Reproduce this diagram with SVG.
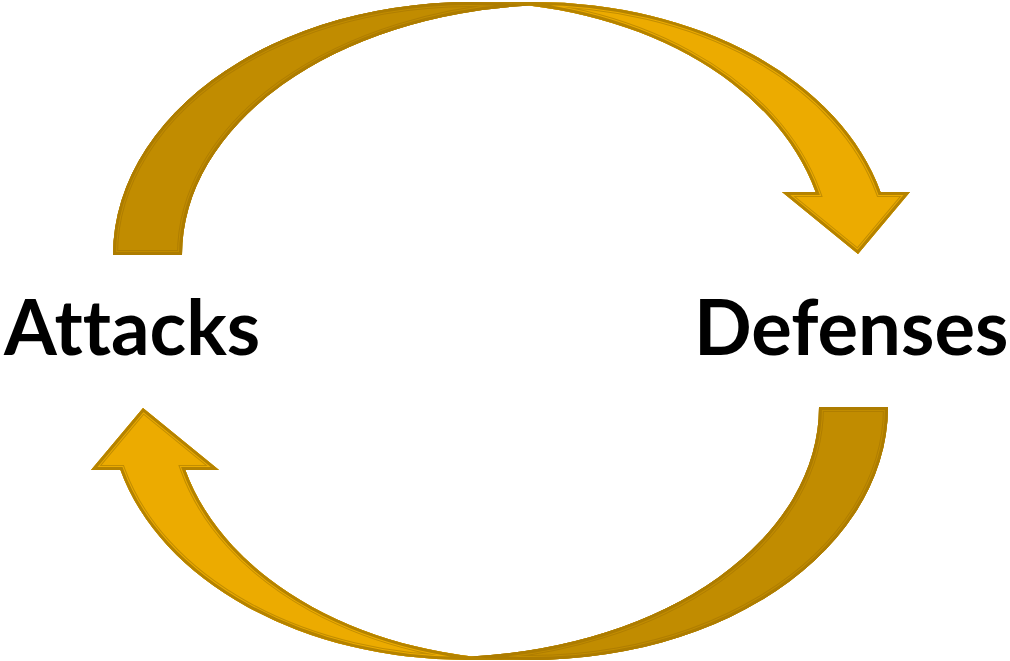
<svg xmlns="http://www.w3.org/2000/svg" xmlns:xlink="http://www.w3.org/1999/xlink" width="1010" height="661" viewBox="0 0 1010 661">
  <style>
    .label { font-family: Lato, "Open Sans", "Liberation Sans", sans-serif; font-weight: 700; font-size: 76px; fill: #000000; font-variant-ligatures: none; font-feature-settings: "liga" 0; }
  </style>
  <defs>
    <!-- front (lit) band of the curved arrow: outer ellipse B, inner ellipse A, arrowhead -->
    <path id="frontBand" d="M470,2 L535,2 A357,253 0 0 1 880.6,192 L910,192 L858,254 L782,192 L815.6,192 A357,253 0 0 0 470,2 Z"/>
    <!-- back (shaded) band: outer ellipse A, inner ellipse C -->
    <path id="backBand" d="M113,255 A357,253 0 0 1 530,5.6 A376,250 0 0 0 182,255 Z"/>
    <clipPath id="clipFront"><use xlink:href="#frontBand"/></clipPath>
    <clipPath id="clipBack"><use xlink:href="#backBand"/></clipPath>
    <!-- one complete curved arrow with a double inner outline -->
    <g id="curvedArrow">
      <g clip-path="url(#clipFront)">
        <use xlink:href="#frontBand" fill="#ECAB00" stroke="#C28D00" stroke-width="10"/>
        <use xlink:href="#frontBand" fill="none" stroke="#ECAB00" stroke-width="8"/>
        <use xlink:href="#frontBand" fill="none" stroke="#B58300" stroke-width="6"/>
      </g>
      <g clip-path="url(#clipBack)">
        <use xlink:href="#backBand" fill="#C18C00" stroke="#B07E00" stroke-width="10"/>
        <use xlink:href="#backBand" fill="none" stroke="#C18C00" stroke-width="8"/>
        <use xlink:href="#backBand" fill="none" stroke="#AD7C00" stroke-width="6"/>
      </g>
    </g>
  </defs>

  <rect width="1010" height="661" fill="#FFFFFF"/>

  <g id="connectors">
    <!-- upper arrow: Attacks to Defenses -->
    <use id="arrow-attacks-defenses" xlink:href="#curvedArrow"/>
    <!-- lower arrow: Defenses back to Attacks (point-symmetric copy) -->
    <use id="arrow-defenses-attacks" xlink:href="#curvedArrow" transform="rotate(180 500.5 331)"/>
  </g>

  <g id="attacks">
    <text class="label" x="4" y="355">Attacks</text>
  </g>
  <g id="defenses">
    <text class="label" x="694" y="355">Defenses</text>
  </g>
</svg>
